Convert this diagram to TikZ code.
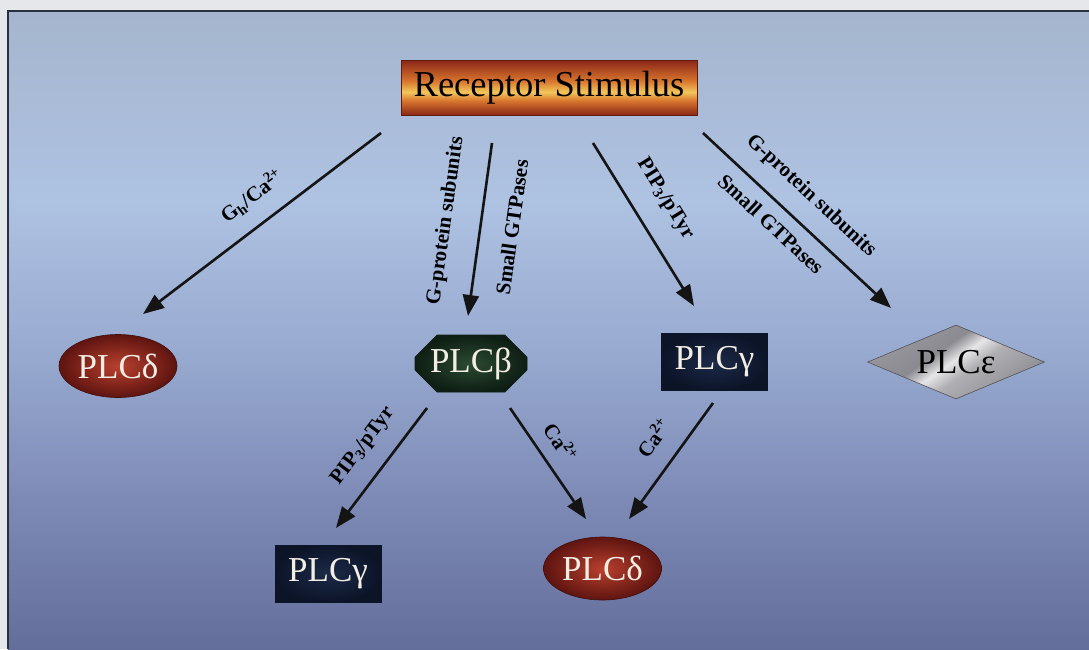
\documentclass[tikz,border=0pt]{standalone}
\usepackage{fontspec}
\setmainfont{Liberation Serif}
\usetikzlibrary{shapes.geometric,shapes.misc,arrows.meta}
\definecolor{outerbg}{HTML}{E6E7EB}
\definecolor{frame}{HTML}{2A3040}
\definecolor{bgA}{RGB}{100,110,155}
\definecolor{bgB}{RGB}{125,138,182}
\definecolor{bgC}{RGB}{152,170,208}
\definecolor{bgD}{RGB}{174,194,226}
\definecolor{bgE}{RGB}{165,181,205}
\definecolor{rsred}{HTML}{8A2616}
\definecolor{rsorange}{HTML}{D8752E}
\definecolor{rsyellow}{HTML}{F2C65A}
\definecolor{dred}{HTML}{5E1410}
\definecolor{lred}{HTML}{B8402E}
\definecolor{dgreen}{HTML}{0E1E14}
\definecolor{lgreen}{HTML}{2C4A32}
\definecolor{navyA}{HTML}{0C1428}
\definecolor{navyB}{HTML}{1C2A48}
\definecolor{mgA}{HTML}{8A8A90}
\definecolor{mgB}{HTML}{B0B0B4}
\definecolor{mgC}{HTML}{E6E6E8}
\definecolor{mgD}{HTML}{98989E}
\definecolor{arrowc}{HTML}{141414}
\definecolor{ptext}{HTML}{F2EEE4}
\pgfdeclareverticalshading{panelshade}{100bp}{color(0bp)=(bgA); color(25bp)=(bgA); color(36.7bp)=(bgB); color(48.4bp)=(bgC); color(60.2bp)=(bgD); color(75bp)=(bgE); color(100bp)=(bgE)}
\pgfdeclareverticalshading{rsshade}{100bp}{color(0bp)=(rsred); color(25bp)=(rsred); color(38bp)=(rsorange); color(46bp)=(rsyellow); color(56bp)=(rsorange); color(75bp)=(rsred); color(100bp)=(rsred)}
\pgfdeclareverticalshading{metal}{100bp}{color(0bp)=(mgA); color(25bp)=(mgA); color(44bp)=(mgB); color(51bp)=(mgC); color(58bp)=(mgA); color(75bp)=(mgD); color(100bp)=(mgD)}
\tikzset{
  arr/.style={draw=arrowc, line width=2.6pt, -{Triangle[length=21pt,width=16pt]}},
  lbl/.style={font=\bfseries\fontsize{21}{22}\selectfont, text=black, inner sep=0pt},
  plctext/.style={font=\fontsize{35}{36}\selectfont, text=ptext, inner sep=0pt},
  ell/.style={plctext, ellipse, inner color=lred, outer color=dred, draw=dred!70!black, line width=0.6pt, minimum width=118pt, minimum height=63pt},
  oct/.style={plctext, chamfered rectangle, chamfered rectangle xsep=11pt, chamfered rectangle ysep=11pt, inner color=lgreen, outer color=dgreen, draw=dgreen, line width=0.6pt, minimum width=112pt, minimum height=57pt},
  gbox/.style={plctext, rectangle, inner color=navyB, outer color=navyA, draw=navyA, line width=0.6pt, minimum width=106pt, minimum height=57pt},
  dia/.style={font=\fontsize{35}{36}\selectfont, text=black, inner sep=0pt, diamond, aspect=2.4, shading=metal, shading angle=35, draw=mgA!60!black, line width=0.6pt, minimum width=177pt, minimum height=74pt},
  rsbox/.style={font=\fontsize{36.5}{38}\selectfont, text=black, rectangle, shading=rsshade, draw=rsred!70!black, line width=0.8pt, minimum width=296pt, minimum height=55pt, inner sep=0pt}
}
\begin{document}
\begin{tikzpicture}[x=1pt,y=-1pt]
\useasboundingbox (0,0) rectangle (1089,649);
\fill[outerbg] (0,0) rectangle (1089,649);
\shade[shading=panelshade] (8,11) rectangle (1089,649);
\draw[frame, line width=2.4pt] (8,649) -- (8,11) -- (1089,11);

% nodes
\node[rsbox] (rs) at (549,87.5) {Receptor Stimulus};
\node[ell] (d1) at (118,366) {PLCδ};
\node[oct] (b) at (471,363.5) {PLCβ};
\node[gbox] (g1) at (714.5,362) {PLCγ};
\node[dia] (e) at (956,362) {PLCε};
\node[gbox] (g2) at (328,573.5) {PLCγ};
\node[ell] (d2) at (602.5,568.5) {PLCδ};

% connector end points
\coordinate (a1s) at (381,133);
\coordinate (a1e) at (143,314);
\coordinate (a2s) at (492,143);
\coordinate (a2e) at (468,316);
\coordinate (a3s) at (593,143);
\coordinate (a3e) at (694,306);
\coordinate (a4s) at (703,133);
\coordinate (a4e) at (891,308);
\coordinate (a5s) at (427,408);
\coordinate (a5e) at (336,528);
\coordinate (a6s) at (510,408);
\coordinate (a6e) at (586,519);
\coordinate (a7s) at (713,403);
\coordinate (a7e) at (629,519);

\draw[arr] (a1s) -- (a1e);
\draw[arr] (a2s) -- (a2e);
\draw[arr] (a3s) -- (a3e);
\draw[arr] (a4s) -- (a4e);
\draw[arr] (a5s) -- (a5e);
\draw[arr] (a6s) -- (a6e);
\draw[arr] (a7s) -- (a7e);

% labels
\node[lbl, rotate=37] (l1) at (252,196) {G\textsubscript{h}/Ca\textsuperscript{2+}};
\node[lbl, rotate=82] (l2a) at (446,221) {G-protein subunits};
\node[lbl, rotate=82] (l2b) at (512,227) {Small GTPases};
\node[lbl, rotate=-58.3] (l3) at (665,199) {PIP\textsubscript{3}/pTyr};
\node[lbl, rotate=-42.9] (l4a) at (811,196) {G-protein subunits};
\node[lbl, rotate=-42.9] (l4b) at (771,224) {Small GTPases};
\node[lbl, rotate=52.9] (l5) at (363,446) {PIP\textsubscript{3}/pTyr};
\node[lbl, rotate=-55.7] (l6) at (561,442) {Ca\textsuperscript{2+}};
\node[lbl, rotate=54.2] (l7) at (653,438) {Ca\textsuperscript{2+}};
\end{tikzpicture}
\end{document}
